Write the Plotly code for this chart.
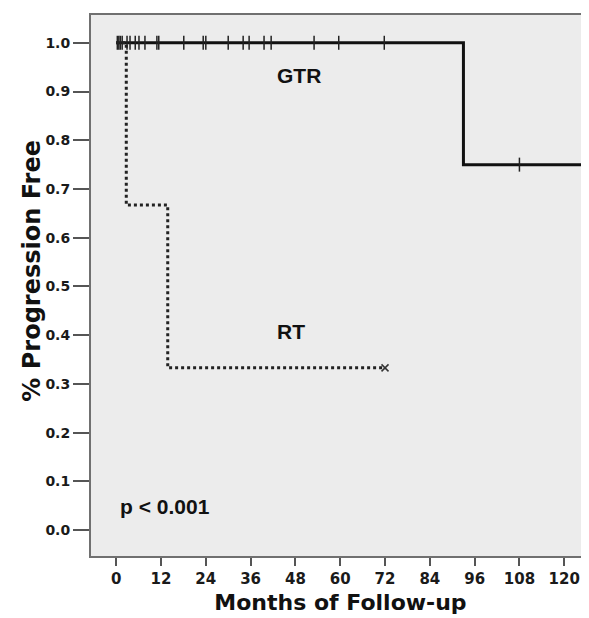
import plotly.graph_objects as go

# GTR curve (Kaplan-Meier step coordinates)
gtr_step_x = [0, 93, 126.9]
gtr_step_y = [1.0, 0.75, 0.75]
gtr_cens_x = [0.3, 0.7, 1.1, 1.6, 2.9, 3.7, 5.1, 6.1, 7.7, 10.9, 11.4, 18.1,
              23.3, 24.0, 30.0, 34.0, 35.6, 39.6, 41.5, 53.0, 59.6, 71.8, 108.0]
gtr_cens_y = [1.0] * 22 + [0.75]

# RT curve
rt_step_x = [0, 2.7, 13.8, 72.0]
rt_step_y = [1.0, 0.667, 0.333, 0.333]
rt_cens_x = [72.0]
rt_cens_y = [0.333]

x_ticks = [0, 12, 24, 36, 48, 60, 72, 84, 96, 108, 120]
x_tick_labels = ["0", "12", "24", "36", "48", "60", "72", "84", "96", "108", "120"]
y_ticks = [0.0, 0.1, 0.2, 0.3, 0.4, 0.5, 0.6, 0.7, 0.8, 0.9, 1.0]
y_tick_labels = ["0.0", "0.1", "0.2", "0.3", "0.4", "0.5", "0.6", "0.7", "0.8", "0.9", "1.0"]

FONT = "DejaVu Sans"
ARIAL = "Liberation Sans"

fig = go.Figure()
fig.add_trace(go.Scatter(x=gtr_step_x, y=gtr_step_y, mode="lines",
                         line=dict(color="#111111", width=3, shape="hv"),
                         showlegend=False, hoverinfo="skip"))
fig.add_trace(go.Scatter(x=gtr_cens_x, y=gtr_cens_y, mode="markers",
                         marker=dict(symbol="line-ns", size=10,
                                     line=dict(color="#222222", width=1.5)),
                         showlegend=False))
fig.add_trace(go.Scatter(x=rt_step_x, y=rt_step_y, mode="lines",
                         line=dict(color="#222222", width=3, shape="hv", dash="dot"),
                         showlegend=False, hoverinfo="skip"))
fig.add_trace(go.Scatter(x=rt_cens_x, y=rt_cens_y, mode="markers",
                         marker=dict(symbol="x-thin", size=7,
                                     line=dict(color="#333333", width=1.5)),
                         showlegend=False))

ann_font = dict(family=ARIAL, size=21, color="#111111", weight="bold")
fig.add_annotation(x=42.6, y=0.932, text="GTR", showarrow=False, xanchor="left",
                   font=ann_font)
fig.add_annotation(x=42.6, y=0.407, text="RT", showarrow=False, xanchor="left",
                   font=ann_font)
fig.add_annotation(x=0.45, y=0.049, text="p &lt; 0.001", showarrow=False, xanchor="left",
                   font=ann_font)
# y-axis title
fig.add_annotation(xref="paper", yref="y", x=(24 - 83) / 501, y=0.533,
                   text="<b>% Progression Free</b>", textangle=-90, showarrow=False,
                   xanchor="center", yanchor="middle",
                   font=dict(family=FONT, size=24, color="#111111"))

fig.update_layout(
    width=589, height=618,
    margin=dict(l=83, r=5, t=5, b=70),
    paper_bgcolor="white",
    plot_bgcolor="#ececec",
    font=dict(family=FONT, color="#222222"),
    xaxis=dict(range=[-6.75, 126.9], tickvals=x_ticks,
               ticktext=["<b>%s</b>" % t for t in x_tick_labels],
               ticks="outside", ticklen=8,
               tickwidth=1.5, tickcolor="#555555", showgrid=False, zeroline=False,
               showline=True, linecolor="#707070", linewidth=2, mirror=True,
               tickfont=dict(family=FONT, size=15, color="#1a1a1a", weight="bold"),
               title=dict(text="<b>Months of Follow-up</b>", standoff=8,
                          font=dict(family=FONT, size=22, color="#111111"))),
    yaxis=dict(range=[-0.053, 1.057], tickvals=y_ticks,
               ticktext=["<b>%s</b>" % t for t in y_tick_labels],
               ticks="outside", ticklen=16, tickwidth=1.5, tickcolor="#555555",
               showgrid=False, zeroline=False,
               showline=True, linecolor="#707070", linewidth=2, mirror=True,
               tickfont=dict(family=FONT, size=14, color="#1a1a1a", weight="bold")),
)

fig.write_html("out.html")
